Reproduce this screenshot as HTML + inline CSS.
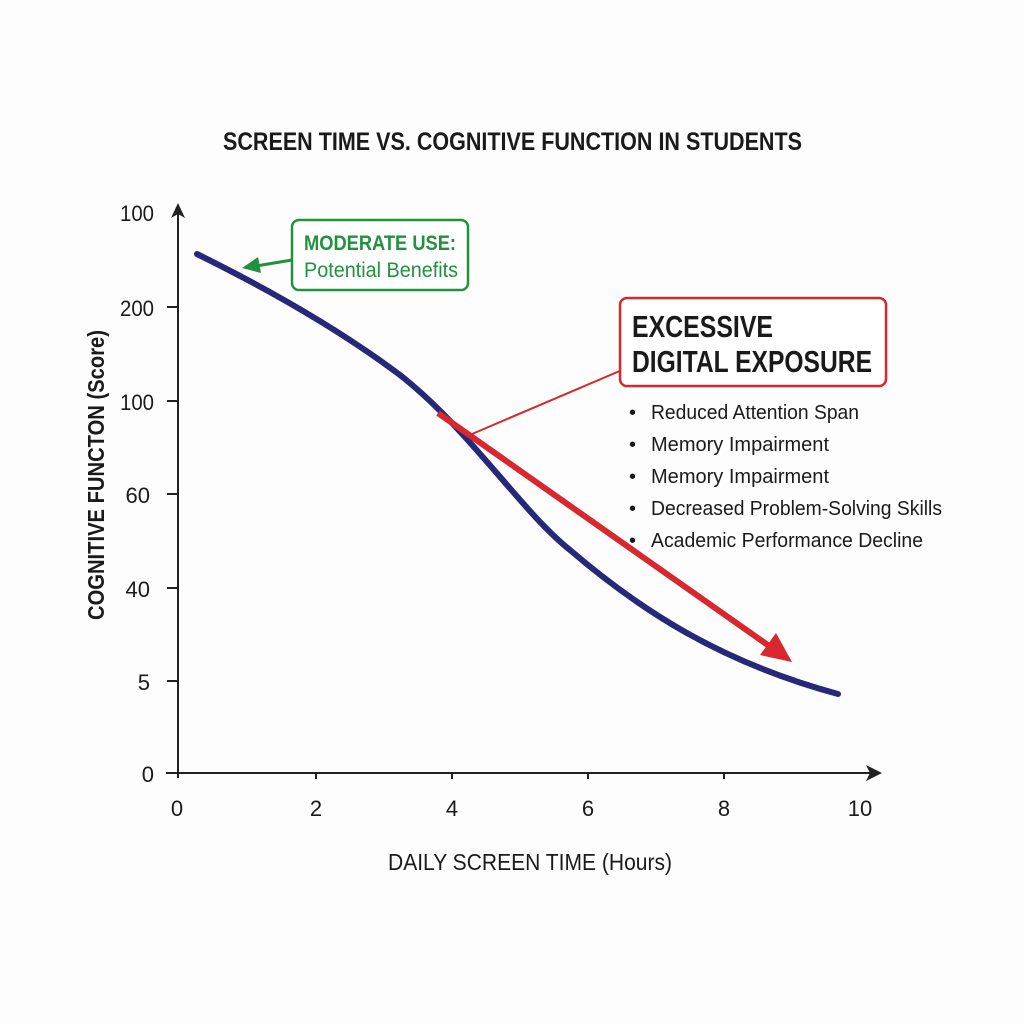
<!DOCTYPE html>
<html><head><style>html,body{margin:0;padding:0;background:#fdfdfd}svg{display:block}text{font-family:"Liberation Sans",sans-serif}</style></head>
<body>
<svg width="1024" height="1024" viewBox="0 0 1024 1024" xmlns="http://www.w3.org/2000/svg">
<rect width="1024" height="1024" fill="#fdfdfd"/>
<text x="223" y="150" font-size="25" font-weight="bold" fill="#1a1a1a" textLength="579" lengthAdjust="spacingAndGlyphs">SCREEN TIME VS. COGNITIVE FUNCTION IN STUDENTS</text>
<!-- axes -->
<line x1="178" y1="212" x2="178" y2="778" stroke="#222" stroke-width="2"/>
<polygon points="171,218 178,203 185,218 178,214" fill="#222"/>
<line x1="166" y1="773" x2="874" y2="773" stroke="#222" stroke-width="2"/>
<polygon points="866,765 882,773 866,781 870,773" fill="#222"/>
<g stroke="#222" stroke-width="2">
<line x1="316" y1="773" x2="316" y2="779"/><line x1="452" y1="773" x2="452" y2="779"/><line x1="588" y1="773" x2="588" y2="779"/><line x1="724" y1="773" x2="724" y2="779"/>
<line x1="167" y1="307" x2="178" y2="307"/><line x1="167" y1="401" x2="178" y2="401"/><line x1="167" y1="494" x2="178" y2="494"/><line x1="167" y1="588" x2="178" y2="588"/><line x1="167" y1="681" x2="178" y2="681"/>
</g>
<g font-size="22" fill="#1a1a1a" text-anchor="end">
<text x="154" y="221" textLength="34" lengthAdjust="spacingAndGlyphs">100</text><text x="154" y="316" textLength="34" lengthAdjust="spacingAndGlyphs">200</text><text x="154" y="410" textLength="34" lengthAdjust="spacingAndGlyphs">100</text><text x="150" y="503">60</text><text x="150" y="597">40</text><text x="150" y="690">5</text><text x="154" y="782">0</text>
</g>
<g font-size="22" fill="#1a1a1a" text-anchor="middle">
<text x="177" y="816">0</text><text x="316" y="816">2</text><text x="452" y="816">4</text><text x="588" y="816">6</text><text x="724" y="816">8</text><text x="860" y="816">10</text>
</g>
<text x="388" y="870" font-size="23" fill="#1a1a1a" textLength="284" lengthAdjust="spacingAndGlyphs">DAILY SCREEN TIME (Hours)</text>
<text transform="translate(104,620) rotate(-90)" font-size="23" font-weight="bold" fill="#1a1a1a" textLength="290" lengthAdjust="spacingAndGlyphs">COGNITIVE FUNCTON (Score)</text>
<!-- curve -->
<path d="M197 254 C270 290 340 330 400 375 C470 430 520 510 570 550 C640 610 720 662 838 694" fill="none" stroke="#27287a" stroke-width="6" stroke-linecap="round"/>
<!-- red annotations -->
<line x1="438" y1="413" x2="772" y2="648" stroke="#d9272e" stroke-width="6"/>
<polygon points="792,662 760,655 776,633" fill="#d9272e"/>
<line x1="472" y1="434" x2="622" y2="370" stroke="#d9272e" stroke-width="2"/>
<rect x="620" y="298" width="266" height="88" rx="7" fill="#fff" stroke="#d9272e" stroke-width="2.5"/>
<text x="632" y="337" font-size="31" font-weight="bold" fill="#1a1a1a" textLength="141" lengthAdjust="spacingAndGlyphs">EXCESSIVE</text>
<text x="632" y="372" font-size="31" font-weight="bold" fill="#1a1a1a" textLength="240" lengthAdjust="spacingAndGlyphs">DIGITAL EXPOSURE</text>
<g font-size="20" fill="#1a1a1a">
<text x="629" y="419">•</text><text x="651" y="419" textLength="208" lengthAdjust="spacingAndGlyphs">Reduced Attention Span</text>
<text x="629" y="451">•</text><text x="651" y="451" textLength="178" lengthAdjust="spacingAndGlyphs">Memory Impairment</text>
<text x="629" y="483">•</text><text x="651" y="483" textLength="178" lengthAdjust="spacingAndGlyphs">Memory Impairment</text>
<text x="629" y="515">•</text><text x="651" y="515" textLength="291" lengthAdjust="spacingAndGlyphs">Decreased Problem-Solving Skills</text>
<text x="629" y="547">•</text><text x="651" y="547" textLength="272" lengthAdjust="spacingAndGlyphs">Academic Performance Decline</text>
</g>
<!-- green -->
<rect x="292" y="220" width="176" height="70" rx="7" fill="#fff" stroke="#22913e" stroke-width="2.5"/>
<text x="304" y="250" font-size="21" font-weight="bold" fill="#22913e" textLength="152" lengthAdjust="spacingAndGlyphs">MODERATE USE:</text>
<text x="304" y="277" font-size="21" fill="#22913e" textLength="154" lengthAdjust="spacingAndGlyphs">Potential Benefits</text>
<line x1="292" y1="260" x2="256" y2="266" stroke="#22913e" stroke-width="3"/>
<polygon points="242,268 258,257 261,273" fill="#22913e"/>
</svg>
</body></html>
